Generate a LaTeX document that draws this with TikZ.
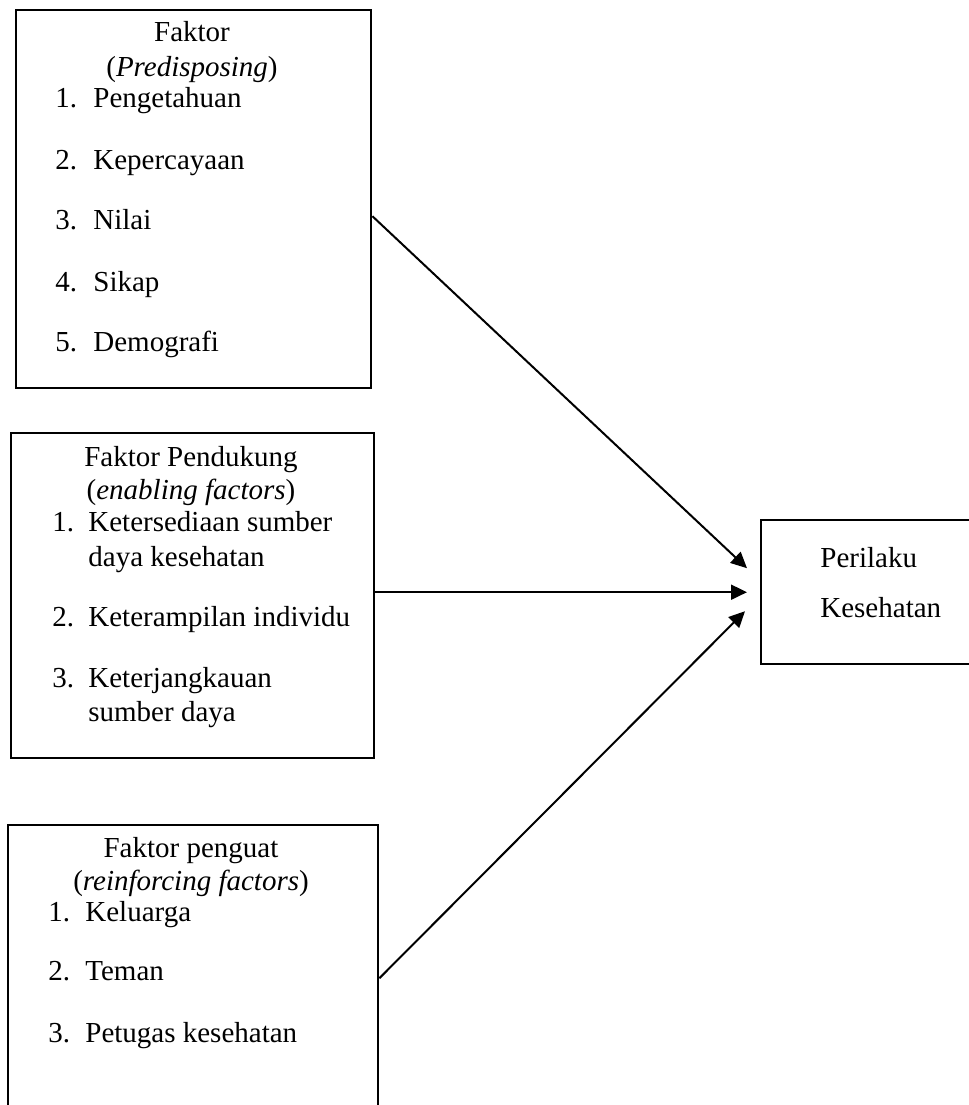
\documentclass[tikz,border=0pt]{standalone}
\usepackage{fontspec}
\setmainfont{Liberation Serif}
\usetikzlibrary{arrows.meta}

\tikzset{
  factorbox/.style={draw=black, line width=1.2pt, inner sep=0pt, anchor=north west},
  headtxt/.style={inner sep=0pt, anchor=mid},
  itemtxt/.style={inner sep=0pt, anchor=mid west},
  arrow/.style={line width=1pt, -{Triangle[length=8pt,width=7.5pt]}}
}

\begin{document}
\begin{tikzpicture}[x=0.5pt, y=-0.5pt, font=\fontsize{14.5}{17.5}\selectfont]
  \useasboundingbox (0,0) rectangle (969,1105);
  \clip (0,0) rectangle (969,1105);

  % boxes
  \node[factorbox, minimum width=177.5pt, minimum height=189pt] (predis) at (15,9) {};
  \node[factorbox, minimum width=181.5pt, minimum height=162.5pt] (enabl) at (10,432) {};
  \node[factorbox, minimum width=185pt, minimum height=160pt] (reinf) at (7,824) {};
  \node[factorbox, minimum width=125pt, minimum height=72pt] (perilaku) at (760,519) {};

  % predisposing
  \node[headtxt] (predisH) at (192,37) {Faktor};
  \node[headtxt] (predisS) at (192,72) {(\textit{Predisposing})};
  \foreach \n/\y/\t in {1/103/Pengetahuan, 2/165/Kepercayaan, 3/225/Nilai,
                        4/287/Sikap, 5/347/Demografi} {
    \node[itemtxt] (predisN\n) at (55,\y) {\n.};
    \node[itemtxt] (predisT\n) at (93,\y) {\t};
  }

  % enabling
  \node[headtxt] (enablH) at (191,462) {Faktor Pendukung};
  \node[headtxt] (enablS) at (191,495) {(\textit{enabling factors})};
  \node[itemtxt] (enablN1) at (52,527) {1.};
  \node[itemtxt] (enablT1) at (88,527) {Ketersediaan sumber};
  \node[itemtxt] (enablT1b) at (88,562) {daya kesehatan};
  \node[itemtxt] (enablN2) at (52,622) {2.};
  \node[itemtxt] (enablT2) at (88,622) {Keterampilan individu};
  \node[itemtxt] (enablN3) at (52,683) {3.};
  \node[itemtxt] (enablT3) at (88,683) {Keterjangkauan};
  \node[itemtxt] (enablT3b) at (88,717) {sumber daya};

  % reinforcing
  \node[headtxt] (reinfH) at (191,853) {Faktor penguat};
  \node[headtxt] (reinfS) at (191,886) {(\textit{reinforcing factors})};
  \foreach \n/\y/\t in {1/917/Keluarga, 2/976/Teman, 3/1038/Petugas kesehatan} {
    \node[itemtxt] (reinfN\n) at (48,\y) {\n.};
    \node[itemtxt] (reinfT\n) at (85,\y) {\t};
  }

  % outcome
  \node[itemtxt] (perilakuT1) at (820,563) {Perilaku};
  \node[itemtxt] (perilakuT2) at (820,613) {Kesehatan};

  % arrows
  \draw[arrow] ([yshift=-8.5pt]predis.east) -- ([xshift=-6.5pt,yshift=12pt]perilaku.west);
  \draw[arrow] ([yshift=1.75pt]enabl.east) -- ([xshift=-6.5pt]perilaku.west);
  \draw[arrow] ([yshift=3.5pt]reinf.east) -- ([xshift=-7.5pt,yshift=-9.5pt]perilaku.west);
\end{tikzpicture}
\end{document}
